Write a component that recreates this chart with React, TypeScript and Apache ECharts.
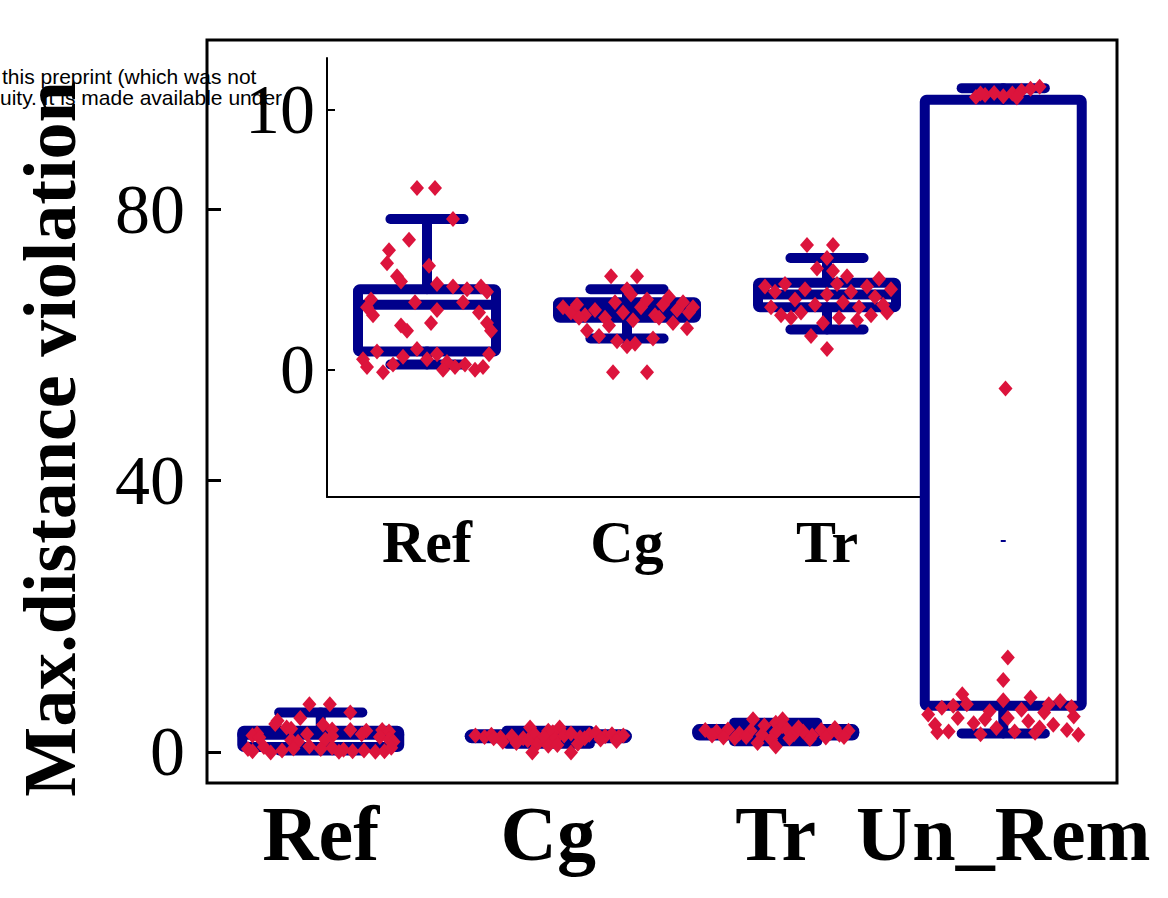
import React, { useEffect, useRef } from "react";
import * as echarts from "echarts";

// ---------- data ----------
const mainCategories = ["Ref", "Cg", "Tr", "Un_Rem"];
const insetCategories = ["Ref", "Cg", "Tr"];
const mainYTicks = [0, 40, 80];
const insetYTicks = [0, 10];
const yAxisTitle = "Max.distance violation";
const watermarkLines = ["this preprint (which was not", "uity. It is made available under"];

// box statistics: [lower whisker, Q1, median, Q3, upper whisker]
const refBox = [0.2, 0.7, 2.5, 3.1, 5.8];
const cgBox = [1.2, 2.0, 2.3, 2.6, 3.1];
const trBox = [1.55, 2.4, 2.9, 3.35, 4.3];
const unRemBox = [2.7, 6.8, 31.1, 96.2, 97.9];
const medianShown = [1, 1, 1, 0];
const unRemDash = [31.1];

// jittered points: [jitter, value]
const refPoints = [
  [-0.05, 7.0], [0.04, 7.0], [0.13, 5.8], [-0.09, 5.0], [-0.19, 4.6], [-0.2, 4.1], [0.01, 4.0],
  [-0.15, 3.6], [-0.13, 3.4], [0.05, 3.3], [0.13, 3.2], [0.2, 3.1], [0.27, 3.2], [0.3, 3.0],
  [-0.28, 2.7], [-0.3, 2.4], [-0.27, 2.1], [-0.06, 2.6], [0.05, 2.3], [0.18, 2.6], [0.26, 2.2],
  [0.3, 1.8], [0.32, 1.5], [-0.13, 1.7], [-0.1, 1.5], [0.02, 1.8], [-0.32, 0.4], [-0.3, 0.1],
  [-0.22, -0.1], [-0.17, 0.2], [-0.05, 0.8], [0.0, 0.4], [0.05, 0.6], [0.1, 0.3], [0.14, 0.1],
  [0.19, 0.2], [0.24, 0.0], [0.28, 0.1], [-0.12, 0.5], [0.08, 0.0], [0.31, 0.6], [-0.25, 0.7],
];
const cgPoints = [
  [-0.08, 3.6], [0.05, 3.6], [0.0, 3.1], [0.02, 2.9], [-0.32, 2.4], [-0.28, 2.2], [-0.25, 2.5],
  [-0.21, 2.1], [-0.16, 2.3], [-0.11, 2.0], [-0.06, 2.6], [-0.02, 2.2], [0.03, 1.9], [0.07, 2.4],
  [0.1, 2.7], [0.14, 2.1], [0.18, 2.5], [0.21, 2.8], [0.25, 2.3], [0.28, 2.6], [0.31, 2.2],
  [0.33, 2.4], [0.23, 1.8], [0.3, 1.6], [-0.2, 1.5], [-0.14, 1.3], [-0.05, 1.1], [0.0, 0.9],
  [0.04, 1.0], [0.13, 1.2], [-0.07, -0.1], [0.1, -0.1], [-0.24, 2.0], [0.16, 2.0], [-0.09, 1.7],
];
const trPoints = [
  [-0.1, 4.8], [0.03, 4.8], [0.0, 4.3], [-0.05, 3.9], [0.03, 3.8], [-0.31, 3.2], [-0.26, 3.0],
  [-0.21, 3.3], [-0.16, 2.7], [-0.11, 3.1], [-0.06, 2.5], [0.0, 2.9], [0.05, 3.3], [0.08, 2.6],
  [0.12, 3.0], [0.16, 2.4], [0.2, 3.2], [0.24, 2.8], [0.28, 2.5], [0.32, 3.1], [0.3, 2.2],
  [-0.28, 2.4], [-0.23, 2.1], [-0.18, 2.0], [-0.13, 2.2], [-0.02, 1.8], [0.06, 2.0], [0.15, 1.9],
  [0.22, 2.1], [-0.08, 1.3], [0.0, 0.8], [0.1, 3.6], [0.26, 3.5],
];
const unRemPoints = [
  [-0.12, 96.6], [-0.08, 96.9], [-0.04, 97.2], [0.0, 96.7], [0.04, 97.1], [0.08, 97.5],
  [0.12, 97.8], [0.16, 98.1], [-0.1, 97.1], [0.06, 96.5],
  [0.01, 53.6], [0.02, 13.9], [0.0, 10.6],
  [-0.33, 5.5], [-0.3, 4.0], [-0.27, 6.5], [-0.24, 3.0], [-0.2, 5.0], [-0.16, 7.0], [-0.13, 4.2],
  [-0.1, 2.6], [-0.06, 6.0], [-0.03, 3.5], [0.0, 7.6], [0.02, 5.0], [0.05, 3.0], [0.08, 6.2],
  [0.11, 4.5], [0.14, 2.8], [0.18, 5.8], [0.22, 4.0], [0.25, 7.5], [0.28, 3.2], [0.31, 5.2],
  [0.33, 2.5], [-0.18, 8.5], [0.12, 8.0], [-0.22, 6.8], [-0.08, 4.8], [0.16, 3.6], [0.3, 6.6],
  [-0.29, 2.9], [0.2, 7.0],
];

// ---------- styling ----------
const NAVY = "#00008B";
const RED = "#DC143C";
const SERIF = "'Liberation Serif', 'Times New Roman', serif";
const SANS = "21px 'Liberation Sans', Arial, sans-serif";

const allBoxes = [refBox, cgBox, trBox, unRemBox];
const allPoints = [refPoints, cgPoints, trPoints, unRemPoints];

function boxData(count: number) {
  const out: number[][] = [];
  for (let i = 0; i < count; i++) out.push([i, ...allBoxes[i], medianShown[i]]);
  return out;
}
function pointData(count: number) {
  const out: number[][] = [];
  for (let i = 0; i < count; i++) allPoints[i].forEach((p) => out.push([i + p[0], p[1]]));
  return out;
}

function makeRenderBox(lineWidth: number) {
  return (_params: any, api: any) => {
    const cat = api.value(0);
    const lo = api.coord([cat, api.value(1)]);
    const q1 = api.coord([cat, api.value(2)]);
    const med = api.coord([cat, api.value(3)]);
    const q3 = api.coord([cat, api.value(4)]);
    const hi = api.coord([cat, api.value(5)]);
    const showMed = api.value(6);
    const band = api.size([1, 0])[0];
    const cx = q1[0];
    const bw = band * 0.69;
    const cw = bw * 0.53;
    const st = { stroke: NAVY, lineWidth, lineCap: "round", lineJoin: "round", fill: "none" };
    const children: any[] = [
      { type: "line", shape: { x1: cx, y1: hi[1], x2: cx, y2: q3[1] }, style: st },
      { type: "line", shape: { x1: cx, y1: q1[1], x2: cx, y2: lo[1] }, style: st },
      { type: "line", shape: { x1: cx - cw / 2, y1: hi[1], x2: cx + cw / 2, y2: hi[1] }, style: st },
      { type: "line", shape: { x1: cx - cw / 2, y1: lo[1], x2: cx + cw / 2, y2: lo[1] }, style: st },
      { type: "rect", shape: { x: cx - bw / 2, y: q3[1], width: bw, height: q1[1] - q3[1], r: 2 }, style: st },
    ];
    if (showMed) {
      children.push({ type: "line", shape: { x1: cx - bw / 2, y1: med[1], x2: cx + bw / 2, y2: med[1] }, style: st });
    }
    return { type: "group", children };
  };
}

export default function App() {
  const ref = useRef<HTMLDivElement>(null);
  useEffect(() => {
    if (!ref.current) return;
    const chart = echarts.init(ref.current, undefined, { renderer: "svg" });
    const option: any = {
      animation: false,
      backgroundColor: "#fff",
      grid: [
        { left: 207, right: 51, top: 40, bottom: 115, show: true, borderColor: "#000", borderWidth: 3, backgroundColor: "transparent" },
        { left: 327, right: 241, top: 58, bottom: 401, show: false },
      ],
      xAxis: [
        {
          gridIndex: 0, type: "category", data: mainCategories,
          axisLine: { show: false, onZero: false }, axisTick: { show: false }, splitLine: { show: false },
          axisLabel: { fontFamily: SERIF, fontWeight: "bold", fontSize: 78, color: "#000", margin: 11, interval: 0 },
        },
        { gridIndex: 0, type: "value", min: -0.5, max: 3.5, show: false },
        {
          gridIndex: 1, type: "category", data: insetCategories,
          axisLine: { show: true, onZero: false, lineStyle: { color: "#000", width: 2 } }, axisTick: { show: false },
          axisLabel: { fontFamily: SERIF, fontWeight: "bold", fontSize: 60, color: "#000", margin: 15, interval: 0 },
        },
        { gridIndex: 1, type: "value", min: -0.5, max: 2.5, show: false },
      ],
      yAxis: [
        {
          gridIndex: 0, type: "value", min: -4.6, max: 105,
          axisLine: { show: false, onZero: false }, splitLine: { show: false },
          axisTick: { show: true, inside: true, length: 14, customValues: mainYTicks, lineStyle: { color: "#000", width: 3 } },
          axisLabel: { customValues: mainYTicks, fontFamily: SERIF, fontSize: 70, color: "#000", margin: 22 },
          name: yAxisTitle, nameLocation: "middle", nameGap: 120, nameRotate: 90,
          nameTextStyle: { fontFamily: SERIF, fontWeight: "bold", fontSize: 74, color: "#000", padding: [0, 55, 0, 0] },
        },
        {
          gridIndex: 1, type: "value", min: -4.9, max: 12,
          axisLine: { show: true, onZero: false, lineStyle: { color: "#000", width: 2 } }, splitLine: { show: false },
          axisTick: { show: true, inside: true, length: 8, customValues: insetYTicks, lineStyle: { color: "#000", width: 2 } },
          axisLabel: { customValues: insetYTicks, fontFamily: SERIF, fontSize: 70, color: "#000", margin: 12 },
        },
      ],
      series: [
        {
          type: "custom", xAxisIndex: 0, yAxisIndex: 0, data: boxData(4),
          encode: { x: 0, y: [1, 2, 3, 4, 5] }, renderItem: makeRenderBox(10), z: 3,
        },
        {
          type: "custom", xAxisIndex: 2, yAxisIndex: 1, data: boxData(3),
          encode: { x: 0, y: [1, 2, 3, 4, 5] }, renderItem: makeRenderBox(10), z: 3,
        },
        {
          type: "scatter", xAxisIndex: 1, yAxisIndex: 0, data: pointData(4),
          symbol: "diamond", symbolSize: [14, 16], itemStyle: { color: RED, opacity: 1 }, z: 5,
        },
        {
          type: "scatter", xAxisIndex: 3, yAxisIndex: 1, data: pointData(3),
          symbol: "diamond", symbolSize: [14, 16], itemStyle: { color: RED, opacity: 1 }, z: 5,
        },
        {
          type: "scatter", xAxisIndex: 1, yAxisIndex: 0, data: unRemDash.map((v) => [3, v]),
          symbol: "rect", symbolSize: [5, 2], itemStyle: { color: NAVY, opacity: 1 }, z: 4,
        },
      ],
      graphic: [
        { type: "text", left: 2, top: 66, z: 100, style: { text: watermarkLines[0], font: SANS, fill: "#000" } },
        { type: "text", left: 0, top: 87, z: 100, style: { text: watermarkLines[1], font: SANS, fill: "#000" } },
      ],
    };
    chart.setOption(option);
    return () => chart.dispose();
  }, []);
  return <div ref={ref} style={{ position: "fixed", left: 0, top: 0, width: 1168, height: 898 }} />;
}
